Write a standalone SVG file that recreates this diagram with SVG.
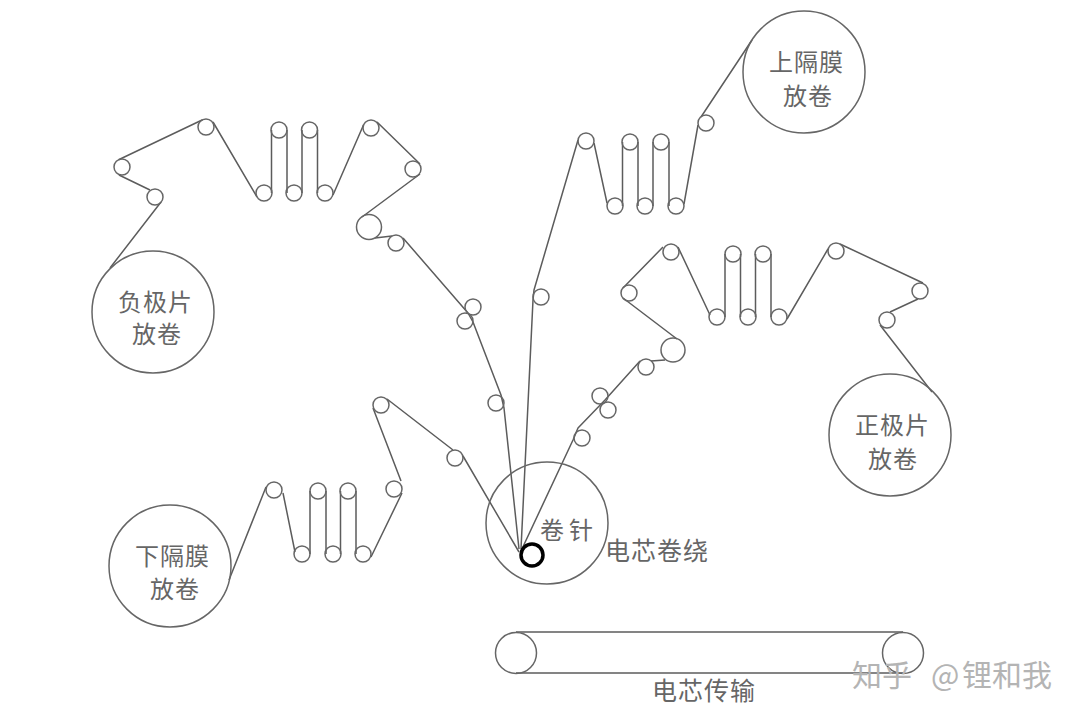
<svg xmlns="http://www.w3.org/2000/svg" width="1080" height="720" viewBox="0 0 1080 720">
<style>
circle{fill:none;stroke:#666;stroke-width:1.5}
.s{fill:#fff}
#connectors path{fill:none;stroke:#5c5c5c;stroke-width:1.5;stroke-linejoin:round}
text{font-family:"Noto Sans CJK SC","Noto Sans",sans-serif;fill:#666;font-size:24px;letter-spacing:1px}
#spindle circle{stroke:#000;stroke-width:3.5}
#watermark text{fill:#b4b4b4;font-size:30px;letter-spacing:0}
</style>
<rect width="1080" height="720" fill="#fff"/>
<g id="connectors">
<path d="M110,268L161,202M150,190L119,175M118.600,159.800L202.600,119.800M213,122L257,197M271.500,193V130M287,130V193M302,193V130M317.500,130V193M333,195L363.500,125M377,122L420,164M420,174L362,217M375,238L392,236M403,238L468,313L473,322L501,395L504,408L519,549"/>
<path d="M752,40L701,117M698,125L684,204M669,142V206M653,206V142M638,142V206M622.500,206V142M607,203L594,143M578,140L534,290L533,300L521,549"/>
<path d="M229,580L266,487M283,493L295,552M310,554V491M326,491V554M340.500,554V491M356,491V554M371,557L402,493M401,481L373,408M387,399L453,450M463,456L519,552"/>
<path d="M880,325L932,392M890,312L918,299M840,244L923,283M828,249L787,319M771,317V254M755.500,254V317M740.500,317V254M725,254V317M710,315L678,247M663,247L623,288M623,298L677,339M665,360L651,361M640,361L605,400L578,428L573,440L521,551"/>
<path d="M516,632H903M516,673H903"/>
</g>
<g id="neg-reel"><circle cx="153" cy="312" r="61"/><text x="118" y="311">负极片</text><text x="132" y="343">放卷</text></g>
<g id="upper-reel"><circle cx="804" cy="72" r="61"/><text x="769" y="71">上隔膜</text><text x="783" y="105">放卷</text></g>
<g id="pos-reel"><circle cx="890" cy="435" r="61"/><text x="855" y="434">正极片</text><text x="868" y="468">放卷</text></g>
<g id="lower-reel"><circle cx="170" cy="566" r="61"/><text x="135" y="565">下隔膜</text><text x="150" y="598">放卷</text></g>
<g id="winding"><circle cx="547" cy="523" r="61"/><text x="605" y="560" style="font-size:25px">电芯卷绕</text></g>
<g id="spindle"><circle cx="532" cy="555" r="11" class="s"/><text x="540" y="539" style="letter-spacing:5px">卷针</text></g>
<g id="neg-rollers"><circle cx="122" cy="167" r="8"/><circle cx="206" cy="127" r="8"/><circle cx="155" cy="197" r="8"/><circle cx="279" cy="130" r="8"/><circle cx="309.500" cy="130" r="8"/><circle cx="264" cy="193" r="8"/><circle cx="294" cy="193" r="8"/><circle cx="325" cy="193" r="8"/><circle cx="371" cy="128" r="8"/><circle cx="413" cy="169" r="8"/><circle cx="369" cy="227" r="12.500"/><circle cx="396" cy="243" r="8"/><circle cx="473" cy="307" r="8"/><circle cx="465" cy="321" r="8"/><circle cx="496" cy="403" r="8"/></g>
<g id="upper-rollers"><circle cx="706" cy="123" r="8"/><circle cx="586" cy="141" r="8"/><circle cx="630" cy="142" r="8"/><circle cx="661" cy="142" r="8"/><circle cx="615" cy="206" r="8"/><circle cx="645" cy="206" r="8"/><circle cx="676" cy="206" r="8"/><circle cx="541" cy="297" r="8"/></g>
<g id="pos-rollers"><circle cx="887" cy="320" r="8"/><circle cx="920" cy="291" r="8"/><circle cx="836" cy="251" r="8"/><circle cx="779" cy="317" r="8"/><circle cx="748" cy="317" r="8"/><circle cx="717" cy="317" r="8"/><circle cx="763" cy="254" r="8"/><circle cx="733" cy="254" r="8"/><circle cx="671" cy="252" r="8"/><circle cx="629" cy="293" r="8"/><circle cx="673" cy="350" r="12"/><circle cx="646" cy="367" r="8"/><circle cx="600" cy="396" r="8"/><circle cx="608" cy="410" r="8"/><circle cx="582" cy="438" r="8"/></g>
<g id="lower-rollers"><circle cx="274" cy="490" r="8"/><circle cx="318" cy="491" r="8"/><circle cx="348" cy="491" r="8"/><circle cx="302" cy="554" r="8"/><circle cx="333" cy="554" r="8"/><circle cx="363" cy="554" r="8"/><circle cx="394" cy="489" r="8"/><circle cx="381" cy="405" r="8"/><circle cx="455" cy="458" r="8"/></g>
<g id="conveyor"><circle cx="516" cy="653" r="20.500"/><circle cx="903" cy="653" r="20.500"/><text x="652" y="700" style="font-size:25px">电芯传输</text></g>
<g id="watermark"><text x="852" y="686">知乎 <tspan x="931">@</tspan><tspan x="962">锂和我</tspan></text></g>
</svg>
